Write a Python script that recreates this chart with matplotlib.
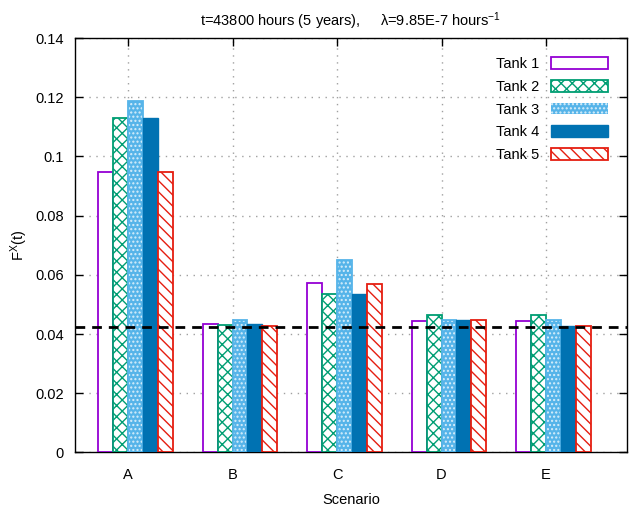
import numpy as np
import matplotlib
matplotlib.use("Agg")
import matplotlib.pyplot as plt

plt.rcParams['font.family'] = ['Liberation Sans', 'DejaVu Sans']
plt.rcParams['mathtext.fontset'] = 'custom'
plt.rcParams['mathtext.rm'] = 'Liberation Sans'
plt.rcParams['mathtext.it'] = 'Liberation Sans'
plt.rcParams['hatch.linewidth'] = 1.0

# data
scenarios = ["A", "B", "C", "D", "E"]
tank1 = [0.0949, 0.0434, 0.0572, 0.0445, 0.0445]
tank2 = [0.1131, 0.0432, 0.0535, 0.0463, 0.0463]
tank3 = [0.1188, 0.0447, 0.0649, 0.0448, 0.0448]
tank4 = [0.1131, 0.0434, 0.0537, 0.0448, 0.0428]
tank5 = [0.0949, 0.0428, 0.0568, 0.0447, 0.0426]
threshold = 0.0424

series = [tank1, tank2, tank3, tank4, tank5]
names = ["Tank 1", "Tank 2", "Tank 3", "Tank 4", "Tank 5"]
colors = ["#9400d3", "#009e73", "#56b4e9", "#0072b2", "#e51e10"]

fig = plt.figure(figsize=(6.31, 5.08), dpi=100)
ax = fig.add_axes([0.1189, 0.1093, 0.8748, 0.8157])

x = np.arange(len(scenarios))
w = 1.0 / 7  # gnuplot clustered histogram, gap 2

handles = []
for j, (vals, name, col) in enumerate(zip(series, names, colors)):
    pos = x + (j - 1.5) * w
    if j == 0:
        b = ax.bar(pos, vals, w, facecolor="white", edgecolor=col, linewidth=1.3, zorder=3, label=name)
    elif j == 1:
        b = ax.bar(pos, vals, w, facecolor="white", edgecolor=col, hatch="xxx", linewidth=1.3, zorder=3, label=name)
    elif j == 2:
        b = ax.bar(pos, vals, w, facecolor=col, edgecolor="#d8eefa", hatch="....", linewidth=0, zorder=3, label=name)
        ax.bar(pos, vals, w, facecolor="none", edgecolor=col, linewidth=1.3, zorder=3)
    elif j == 3:
        b = ax.bar(pos, vals, w, facecolor=col, edgecolor=col, linewidth=1.0, zorder=3, label=name)
    else:
        b = ax.bar(pos, vals, w, facecolor="white", edgecolor=col, hatch="\\\\\\", linewidth=1.3, zorder=3, label=name)
    handles.append(b)

ax.axhline(threshold, color="black", linestyle=(0, (3.5, 2.5)), linewidth=2.0, zorder=4)

ax.set_xlim(-0.507, 4.775)
ax.set_ylim(0, 0.14)
ax.set_xticks(x)
ax.set_xticklabels(scenarios)
ax.set_yticks(np.arange(0, 0.141, 0.02))
ax.set_yticklabels(["0", "0.02", "0.04", "0.06", "0.08", "0.1", "0.12", "0.14"])
ax.tick_params(direction="in", length=6, width=1, top=True, right=True, labelsize=10.5, pad=8)
ax.tick_params(axis="x", pad=11)
ax.grid(True, color="#a0a0a0", linestyle=(0, (1, 4)), linewidth=1.0, zorder=0)
ax.set_axisbelow(True)
for s in ax.spines.values():
    s.set_linewidth(1.0)

ax.set_xlabel("Scenario", fontsize=10.5, labelpad=8)
ax.set_ylabel(r"F$^{\mathrm{X}}$(t)", fontsize=10.5, labelpad=4)
ax.set_title(r"t=43800 hours (5 years),     λ=9.85E-7 hours$^{-1}$", fontsize=10.5, pad=9)

ax.legend(handles=handles, loc="upper right", frameon=False, markerfirst=False,
          fontsize=10.5, handlelength=3.9, handleheight=0.85, labelspacing=0.6,
          borderaxespad=0.9, handletextpad=0.8)

plt.savefig("out.png", dpi=100)
